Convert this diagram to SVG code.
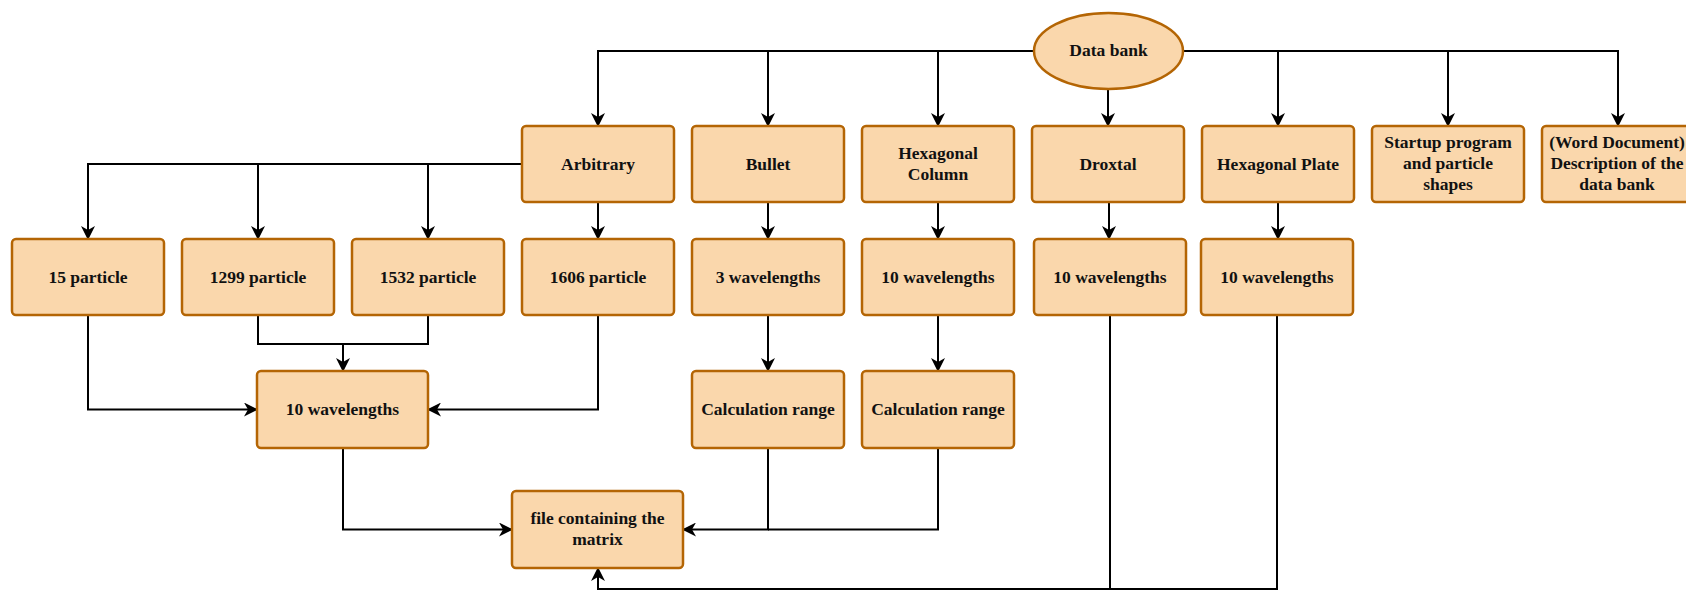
<svg xmlns="http://www.w3.org/2000/svg" width="1686" height="591" viewBox="0 0 1686 591">
<defs>
<style>
.box{fill:#fad7ac;stroke:#b46504;stroke-width:2.5}
.t{font-family:"Liberation Serif","Times New Roman",serif;font-weight:bold;font-size:17.5px;fill:#111;text-anchor:middle;dominant-baseline:central}
.c{fill:none;stroke:#000;stroke-width:2}
</style>
<marker id="a" viewBox="0 0 14 14" markerWidth="14" markerHeight="14" refX="13" refY="7" orient="auto" markerUnits="userSpaceOnUse">
<path d="M0,0 L14,7 L0,14 L4,7 Z" fill="#000"/>
</marker>
</defs>
<rect width="1686" height="591" fill="#fff"/>
<g id="connectors">
<path class="c" d="M1034,51 H598 V126" marker-end="url(#a)"/>
<path class="c" d="M768,51 V126" marker-end="url(#a)"/>
<path class="c" d="M938,51 V126" marker-end="url(#a)"/>
<path class="c" d="M1183,51 H1618 V126" marker-end="url(#a)"/>
<path class="c" d="M1278,51 V126" marker-end="url(#a)"/>
<path class="c" d="M1448,51 V126" marker-end="url(#a)"/>
<path class="c" d="M1108,89 V126" marker-end="url(#a)"/>
<path class="c" d="M522,164 H88 V239" marker-end="url(#a)"/>
<path class="c" d="M258,164 V239" marker-end="url(#a)"/>
<path class="c" d="M428,164 V239" marker-end="url(#a)"/>
<path class="c" d="M598,202 V239" marker-end="url(#a)"/>
<path class="c" d="M768,202 V239" marker-end="url(#a)"/>
<path class="c" d="M938,202 V239" marker-end="url(#a)"/>
<path class="c" d="M1109,202 V239" marker-end="url(#a)"/>
<path class="c" d="M1278,202 V239" marker-end="url(#a)"/>
<path class="c" d="M258,315 V344 H428 V315"/>
<path class="c" d="M343,344 V371" marker-end="url(#a)"/>
<path class="c" d="M88,315 V409.5 H257" marker-end="url(#a)"/>
<path class="c" d="M598,315 V409.5 H428" marker-end="url(#a)"/>
<path class="c" d="M768,315 V371" marker-end="url(#a)"/>
<path class="c" d="M938,315 V371" marker-end="url(#a)"/>
<path class="c" d="M343,448 V529.5 H512" marker-end="url(#a)"/>
<path class="c" d="M768,448 V529.5 H683" marker-end="url(#a)"/>
<path class="c" d="M938,448 V529.5 H768"/>
<path class="c" d="M1110,315 V589 H598 V568" marker-end="url(#a)"/>
<path class="c" d="M1277,315 V589 H1110"/>
</g>
<g id="databank"><ellipse class="box" cx="1108.5" cy="51" rx="74.5" ry="38"/><text class="t" x="1108.5" y="50">Data bank</text></g>
<g id="arbitrary"><rect class="box" x="522" y="126" width="152" height="76" rx="4"/><text class="t" x="598" y="164">Arbitrary</text></g>
<g id="bullet"><rect class="box" x="692" y="126" width="152" height="76" rx="4"/><text class="t" x="768" y="164">Bullet</text></g>
<g id="hexcolumn"><rect class="box" x="862" y="126" width="152" height="76" rx="4"/><text class="t" x="938" y="153">Hexagonal</text><text class="t" x="938" y="174">Column</text></g>
<g id="droxtal"><rect class="box" x="1032" y="126" width="152" height="76" rx="4"/><text class="t" x="1108" y="164">Droxtal</text></g>
<g id="hexplate"><rect class="box" x="1202" y="126" width="152" height="76" rx="4"/><text class="t" x="1278" y="164">Hexagonal Plate</text></g>
<g id="startup"><rect class="box" x="1372" y="126" width="152" height="76" rx="4"/><text class="t" x="1448" y="142">Startup program</text><text class="t" x="1448" y="163">and particle</text><text class="t" x="1448" y="184">shapes</text></g>
<g id="worddoc"><rect class="box" x="1542" y="126" width="152" height="76" rx="4"/><text class="t" x="1617" y="142">(Word Document)</text><text class="t" x="1617" y="163">Description of the</text><text class="t" x="1617" y="184">data bank</text></g>
<g id="p15"><rect class="box" x="12" y="239" width="152" height="76" rx="4"/><text class="t" x="88" y="277">15 particle</text></g>
<g id="p1299"><rect class="box" x="182" y="239" width="152" height="76" rx="4"/><text class="t" x="258" y="277">1299 particle</text></g>
<g id="p1532"><rect class="box" x="352" y="239" width="152" height="76" rx="4"/><text class="t" x="428" y="277">1532 particle</text></g>
<g id="p1606"><rect class="box" x="522" y="239" width="152" height="76" rx="4"/><text class="t" x="598" y="277">1606 particle</text></g>
<g id="bullet-wl"><rect class="box" x="692" y="239" width="152" height="76" rx="4"/><text class="t" x="768" y="277">3 wavelengths</text></g>
<g id="hexcol-wl"><rect class="box" x="862" y="239" width="152" height="76" rx="4"/><text class="t" x="938" y="277">10 wavelengths</text></g>
<g id="droxtal-wl"><rect class="box" x="1034" y="239" width="152" height="76" rx="4"/><text class="t" x="1110" y="277">10 wavelengths</text></g>
<g id="hexplate-wl"><rect class="box" x="1201" y="239" width="152" height="76" rx="4"/><text class="t" x="1277" y="277">10 wavelengths</text></g>
<g id="arb-wl"><rect class="box" x="257" y="371" width="171" height="77" rx="4"/><text class="t" x="342.5" y="409">10 wavelengths</text></g>
<g id="calc1"><rect class="box" x="692" y="371" width="152" height="77" rx="4"/><text class="t" x="768" y="409">Calculation range</text></g>
<g id="calc2"><rect class="box" x="862" y="371" width="152" height="77" rx="4"/><text class="t" x="938" y="409">Calculation range</text></g>
<g id="matrix"><rect class="box" x="512" y="491" width="171" height="77" rx="4"/><text class="t" x="597.5" y="518">file containing the</text><text class="t" x="597.5" y="539">matrix</text></g>
</svg>
